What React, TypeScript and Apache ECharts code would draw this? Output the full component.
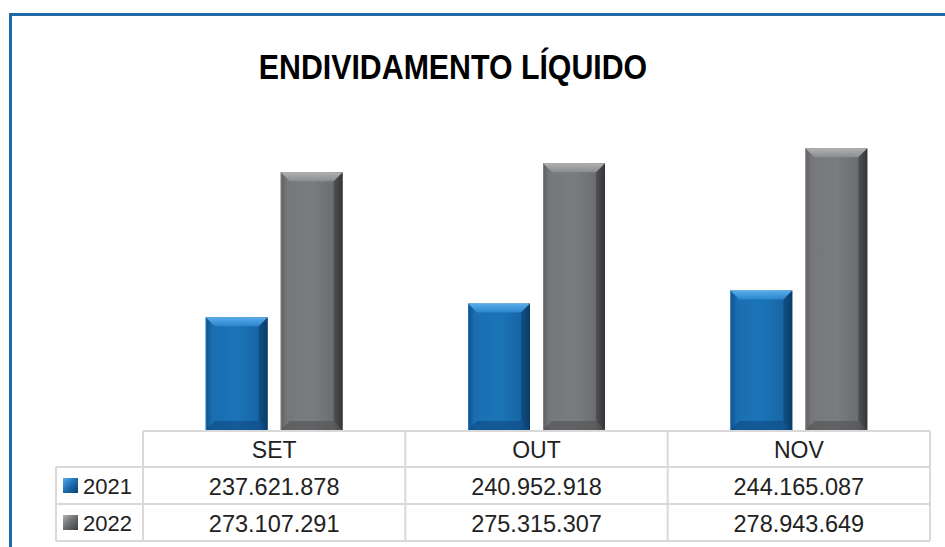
import React, { useEffect, useRef } from "react";
import * as echarts from "echarts";

const categories = ["SET", "OUT", "NOV"];
const seriesNames = ["2021", "2022"];
const values2021 = [237621878, 240952918, 244165087];
const values2022 = [273107291, 275315307, 278943649];
const axisMin = 210000000;
const axisMax = 280000000;

const fmt = (v: number) => v.toString().replace(/\B(?=(\d{3})+(?!\d))/g, ".");

const W = 945;
const H = 547;
const GRID_LEFT = 143;
const GRID_RIGHT = 15;
const GRID_TOP = 144;
const BASE_Y = 430;
const TABLE_TOP = 431;
const ROW1 = 467;
const ROW2 = 504;
const TABLE_BOTTOM = 541;
const LABEL_LEFT = 56;
const LINE = "#d9d9d9";
const FONT = "'Liberation Sans', Arial, sans-serif";

const palettes = [
  {
    main: [
      [0, "#0e4f88"],
      [0.1, "#1a6db0"],
      [0.5, "#1c74b8"],
      [0.85, "#1766a6"],
      [1, "#0a375f"],
    ],
    top: ["#5aaeea", "#2a85cc"],
    left: "#1563a4",
    right: "#0c406f",
    bottom: "#0d4a82",
    key: "#1b6db0",
  },
  {
    main: [
      [0, "#5c5e60"],
      [0.1, "#75777a"],
      [0.5, "#7a7c7f"],
      [0.85, "#6b6d70"],
      [1, "#2c2d2e"],
    ],
    top: ["#b0b2b4", "#8a8c8e"],
    left: "#6e7073",
    right: "#3c3d3e",
    bottom: "#505254",
    key: "#6a6c6e",
  },
];

function makeRender(s: number) {
  return (params: any, api: any) => {
    const idx = api.value(0);
    const val = api.value(1);
    const top = api.coord([idx, val]);
    const base = api.coord([idx, axisMin]);
    const band = api.size([1, 0])[0];
    const w = band * 0.2363;
    const gap = band * 0.0496;
    const cx = top[0] + (s === 0 ? -(w + gap) / 2 : (w + gap) / 2);
    const x0 = cx - w / 2;
    const x1 = cx + w / 2;
    const y0 = top[1];
    const y1 = base[1];
    const b = 9;
    const p = palettes[s];
    return {
      type: "group",
      children: [
        {
          type: "rect",
          shape: { x: x0, y: y0, width: w, height: y1 - y0 },
          style: {
            fill: new echarts.graphic.LinearGradient(
              0, 0, 1, 0,
              p.main.map((m: any) => ({ offset: m[0], color: m[1] }))
            ),
          },
        },
        {
          type: "polygon",
          shape: { points: [[x0, y1], [x1, y1], [x1 - b, y1 - b], [x0 + b, y1 - b]] },
          style: { fill: p.bottom, opacity: 0.6 },
        },
        {
          type: "polygon",
          shape: { points: [[x1, y0], [x1, y1], [x1 - b, y1 - b], [x1 - b, y0 + b]] },
          style: { fill: p.right, opacity: 0.55 },
        },
        {
          type: "polygon",
          shape: { points: [[x0, y0], [x1, y0], [x1 - b, y0 + b], [x0 + b, y0 + b]] },
          style: {
            fill: new echarts.graphic.LinearGradient(0, 0, 0, 1, [
              { offset: 0, color: p.top[0] },
              { offset: 1, color: p.top[1] },
            ]),
          },
        },
        {
          type: "line",
          shape: { x1: x0 + 0.5, y1: y0, x2: x0 + 0.5, y2: y1 },
          style: { stroke: p.top[1], lineWidth: 1, opacity: 0.7 },
        },
      ],
    };
  };
}

export default function App() {
  const ref = useRef<HTMLDivElement>(null);
  useEffect(() => {
    if (!ref.current) return;
    const chart = echarts.init(ref.current, null, { renderer: "svg", width: W, height: H });
    const plotW = W - GRID_LEFT - GRID_RIGHT;
    const colW = plotW / categories.length;
    const tableRight = GRID_LEFT + plotW;
    const rowMid = [(TABLE_TOP + ROW1) / 2, (ROW1 + ROW2) / 2, (ROW2 + TABLE_BOTTOM) / 2];
    const data = [values2021, values2022];

    const graphics: any[] = [];
    // frame
    graphics.push({
      type: "line",
      shape: { x1: 10.5, y1: 14, x2: 10.5, y2: H },
      style: { stroke: "#1f69a6", lineWidth: 3 },
    });
    graphics.push({
      type: "line",
      shape: { x1: 9, y1: 14.5, x2: W, y2: 14.5 },
      style: { stroke: "#1f69a6", lineWidth: 3 },
    });
    // title
    graphics.push({
      type: "text",
      x: 453,
      y: 67,
      scaleX: 0.842,
      style: {
        text: "ENDIVIDAMENTO LÍQUIDO",
        font: "bold 36px 'Liberation Sans', Arial, sans-serif",
        fill: "#000",
        textAlign: "center",
        textVerticalAlign: "middle",
      },
    });
    // table lines
    const hl = (y: number, xa: number, xb: number) =>
      graphics.push({ type: "line", shape: { x1: xa, y1: y, x2: xb, y2: y }, style: { stroke: LINE, lineWidth: 2 } });
    const vl = (x: number, ya: number, yb: number) =>
      graphics.push({ type: "line", shape: { x1: x, y1: ya, x2: x, y2: yb }, style: { stroke: LINE, lineWidth: 2 } });
    hl(TABLE_TOP, GRID_LEFT, tableRight);
    hl(ROW1, LABEL_LEFT, tableRight);
    hl(ROW2, LABEL_LEFT, tableRight);
    hl(TABLE_BOTTOM, LABEL_LEFT, tableRight);
    vl(LABEL_LEFT, ROW1, TABLE_BOTTOM);
    for (let i = 0; i <= categories.length; i++) vl(GRID_LEFT + colW * i, TABLE_TOP, TABLE_BOTTOM);

    categories.forEach((c, i) => {
      const cx = GRID_LEFT + colW * (i + 0.5);
      graphics.push({
        type: "text",
        x: cx,
        y: rowMid[0] + 1,
        style: { text: c, font: `23px ${FONT}`, fill: "#222", textAlign: "center", textVerticalAlign: "middle" },
      });
      data.forEach((arr, s) => {
        graphics.push({
          type: "text",
          x: cx,
          y: rowMid[s + 1] + 1,
          style: { text: fmt(arr[i]), font: `23.5px ${FONT}`, fill: "#222", textAlign: "center", textVerticalAlign: "middle" },
        });
      });
    });
    seriesNames.forEach((n, s) => {
      const y = rowMid[s + 1];
      graphics.push({
        type: "rect",
        shape: { x: 63, y: y - 7.5, width: 15, height: 15 },
        style: {
          fill: new echarts.graphic.LinearGradient(0, 0, 1, 1, [
            { offset: 0, color: palettes[s].top[0] },
            { offset: 0.5, color: palettes[s].key },
            { offset: 1, color: palettes[s].right },
          ]),
        },
      });
      graphics.push({
        type: "text",
        x: 83,
        y: y + 1,
        style: { text: n, font: `22px ${FONT}`, fill: "#222", textAlign: "left", textVerticalAlign: "middle" },
      });
    });

    chart.setOption({
      animation: false,
      backgroundColor: "#ffffff",
      grid: { left: GRID_LEFT, right: GRID_RIGHT, top: GRID_TOP, bottom: H - BASE_Y, containLabel: false },
      xAxis: {
        type: "category",
        data: categories,
        axisLine: { show: false },
        axisTick: { show: false },
        axisLabel: { show: false },
      },
      yAxis: {
        type: "value",
        min: axisMin,
        max: axisMax,
        show: false,
        splitLine: { show: false },
      },
      series: seriesNames.map((n, s) => ({
        name: n,
        type: "custom",
        renderItem: makeRender(s),
        encode: { x: 0, y: 1 },
        data: data[s].map((v, i) => [i, v]),
      })),
      graphic: graphics,
    });
    return () => chart.dispose();
  }, []);
  return <div ref={ref} style={{ position: "fixed", left: 0, top: 0, width: W, height: H }} />;
}
